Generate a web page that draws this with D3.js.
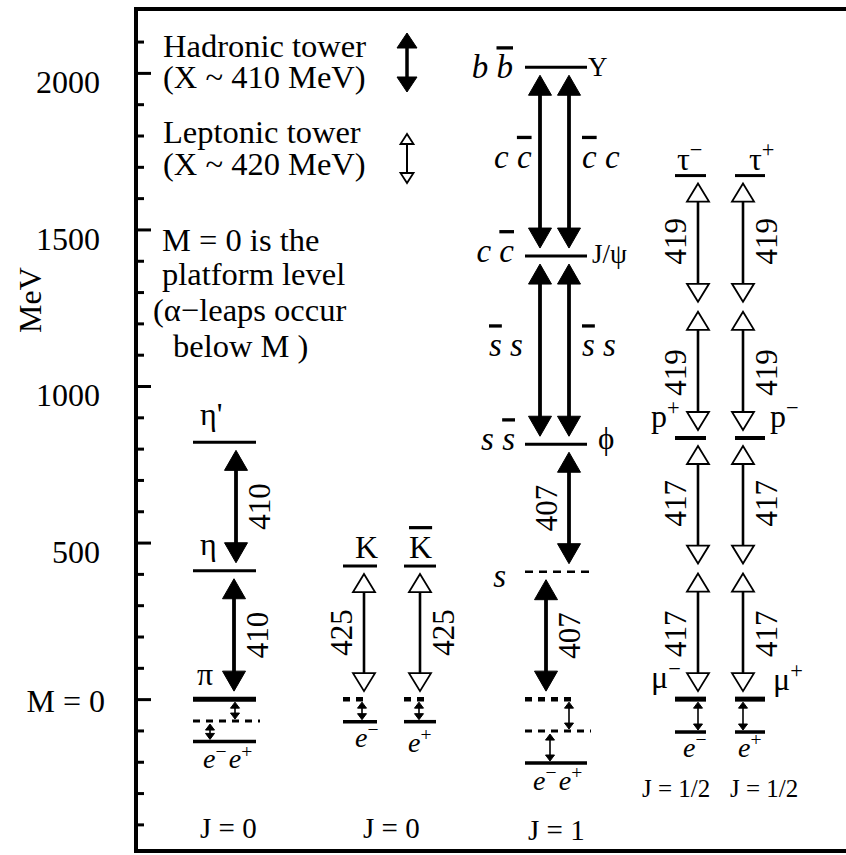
<!DOCTYPE html>
<html>
<head>
<meta charset="utf-8">
<script src="https://cdn.jsdelivr.net/npm/d3@7"></script>
</head>
<body style="margin:0;background:#fff">
<svg id="chart" width="846" height="855" font-family="Liberation Serif"></svg>
<script>
// ---- data: masses in MeV above the platform level M = 0 ----
const majorTicks = [0, 500, 1000, 1500, 2000];
const tickLabels = ["M = 0", "500", "1000", "1500", "2000"];
const minorTicks = [-400, -300, -200, -100, 100, 200, 300, 400, 600, 700, 800, 900,
                    1100, 1200, 1300, 1400, 1600, 1700, 1800, 1900, 2100];

const columns = ["J0", "K", "Kbar", "J1", "lepM", "lepP"];

// level lines per column
const levelCol  = ["J0", "J0", "J0", "J0", "J0",
                   "K", "K", "K", "Kbar", "Kbar", "Kbar",
                   "J1", "J1", "J1", "J1", "J1", "J1", "J1",
                   "lepM", "lepM", "lepM", "lepM", "lepP", "lepP", "lepP", "lepP"];
const levelMeV  = [820, 410, 0, -70, -135,
                   425, 0, -72, 425, 0, -72,
                   2018, 1415, 814, 407, 0, -102, -204,
                   1672, 834, 0, -105, 1672, 834, 0, -105];
const levelType = ["level", "level", "platform", "dashed", "ground",
                   "level", "platformDash", "ground", "level", "platformDash", "ground",
                   "level", "level", "level", "sDash", "platformDash", "dashed", "ground",
                   "level", "levelP", "platform", "ground", "level", "levelP", "platform", "ground"];

// hadronic (filled) towers
const hadLane  = ["J0a", "J0b", "J1a", "J1b", "J1a", "J1b", "J1b", "J1c"];
const hadCol   = ["J0", "J0", "J1", "J1", "J1", "J1", "J1", "J1"];
const hadFrom  = [410, 0, 1415, 1415, 814, 814, 407, 0];
const hadTo    = [820, 410, 2018, 2018, 1415, 1415, 814, 407];
const hadLabel = ["410", "410", "", "", "", "", "407", "407"];

// leptonic (open) towers
const lepLane  = ["K", "Kbar", "lepM", "lepM", "lepM", "lepM", "lepP", "lepP", "lepP", "lepP"];
const lepCol   = ["K", "Kbar", "lepM", "lepM", "lepM", "lepM", "lepP", "lepP", "lepP", "lepP"];
const lepFrom  = [0, 0, 0, 417, 834, 1253, 0, 417, 834, 1253];
const lepTo    = [425, 425, 417, 834, 1253, 1672, 417, 834, 1253, 1672];
const lepLabel = ["425", "425", "417", "417", "419", "419", "417", "417", "419", "419"];

// small leaps below the platform
const leapLane = ["J0s1", "J0s2", "Ks", "Kbars", "J1s1", "J1s2", "lepMs", "lepPs"];
const leapFrom = [-70, -135, -72, -72, -102, -204, -105, -105];
const leapTo   = [0, -70, 0, 0, 0, -102, 0, 0];

// particle names at the levels
const nameMeV  = [820, 410, 0, -135, 425, 425, -72, -72,
                  2018, 2018, 1415, 1415, 814, 814, 407, -204,
                  1672, 1672, 834, 834, 0, 0, -105, -105];
const nameText = ["η'", "η", "π", "e−e+", "K", "K̄", "e−", "e+",
                  "b b̄", "Y", "c c̄", "J/ψ", "s s̄", "ϕ", "s", "e−e+",
                  "τ−", "τ+", "p+", "p−", "μ−", "μ+", "e−", "e+"];

// quark content along the J = 1 tower
const pairMeV  = [1716, 1716, 1114, 1114];
const pairText = ["c c̄", "c̄ c", "s̄ s", "s̄ s"];

const spinText = ["J = 0", "J = 0", "J = 1", "J = 1/2", "J = 1/2"];

const legendText = ["Hadronic tower", "(X ~ 410 MeV)", "Leptonic tower", "(X ~ 420 MeV)",
                    "M = 0 is the", "platform level", "(α−leaps occur", "below M )"];

// ---- layout ----
const W = 846;
const FONT = "Liberation Serif, Times New Roman, Tinos, serif";
const svg = d3.select("#chart");
const y = d3.scaleLinear().domain([-485, 2204]).range([851, 9]);
const axisX = 136;

const colX0 = d3.scaleOrdinal().domain(columns).range([193, 343, 404, 525, 675, 735]);
const colX1 = d3.scaleOrdinal().domain(columns).range([256, 377, 436, 587, 706, 765]);
const laneX = d3.scaleOrdinal()
  .domain(["J0a", "J0b", "K", "Kbar", "J1a", "J1b", "J1c", "lepM", "lepP",
           "J0s1", "J0s2", "Ks", "Kbars", "J1s1", "J1s2", "lepMs", "lepPs"])
  .range([236, 234, 364, 420, 540, 569, 546, 698, 743,
          235, 210, 362, 419, 569, 550, 698, 743]);
const labelSide = {J0a: 1, J0b: 1, K: -1, Kbar: 1, J1b: -1, J1c: 1, lepM: -1, lepP: 1};

const levelStyle = {
  level:        {w: 3,   dash: null,  xpad: 0},
  levelP:       {w: 4,   dash: null,  xpad: 0},
  platform:     {w: 5,   dash: null,  xpad: 0},
  ground:       {w: 3.5, dash: null,  xpad: 0},
  dashed:       {w: 3,   dash: "7,6", xpad: 4},
  sDash:        {w: 2.5, dash: "8,6", xpad: 2},
  platformDash: {w: 4.5, dash: "7,6", xpad: -12}
};

// frame (right edge runs past the page)
svg.append("rect")
  .attr("x", axisX).attr("y", y(2204))
  .attr("width", W - axisX + 20).attr("height", y(-485) - y(2204))
  .attr("fill", "none").attr("stroke", "#000").attr("stroke-width", 4);

// axis with inward ticks
const gMinor = svg.append("g").attr("transform", `translate(${axisX},0)`)
  .call(d3.axisLeft(y).tickValues(minorTicks).tickSize(-8).tickFormat(""));
const gMajor = svg.append("g").attr("transform", `translate(${axisX},0)`)
  .call(d3.axisLeft(y).tickValues(majorTicks).tickSize(-15).tickPadding(36)
        .tickFormat((d, i) => tickLabels[i]));
[gMinor, gMajor].forEach(g => {
  g.attr("font-family", FONT).attr("font-size", 32);
  g.select(".domain").remove();
  g.selectAll(".tick line").attr("stroke", "#000").attr("stroke-width", 3);
});
gMajor.selectAll(".tick text")
  .attr("fill", "#000").attr("font-family", FONT).attr("font-size", 32)
  .attr("x", d => d === 0 ? -31 : -36)
  .attr("dy", d => d === 0 ? "0.38em" : "0.62em");

// vertical text: rotation on a wrapping group
function verticalText(sel, x, yc, str, size) {
  sel.append("g").attr("transform", `translate(${x},${yc}) rotate(-90)`)
    .attr("font-family", FONT)
    .append("text")
    .attr("text-anchor", "middle").attr("dominant-baseline", "central")
    .attr("font-family", FONT).style("font-family", FONT)
    .attr("font-size", size).text(str);
}
verticalText(svg, 30, 300, "MeV", 32);

// level lines
const levelData = levelMeV.map((m, i) => ({col: levelCol[i], mev: m, type: levelType[i]}));
svg.append("g").selectAll("line").data(levelData).join("line")
  .attr("x1", d => colX0(d.col))
  .attr("x2", d => colX1(d.col) + levelStyle[d.type].xpad)
  .attr("y1", d => y(d.mev)).attr("y2", d => y(d.mev))
  .attr("stroke", "#000")
  .attr("stroke-width", d => levelStyle[d.type].w)
  .attr("stroke-dasharray", d => levelStyle[d.type].dash);

// double-headed arrow between two pixel heights
function doubleArrow(g, x, yTop, yBot, o) {
  const hw = o.hw, hl = o.hl;
  g.append("line")
    .attr("x1", x).attr("x2", x)
    .attr("y1", yTop + hl - 1).attr("y2", yBot - hl + 1)
    .attr("stroke", "#000").attr("stroke-width", o.shaft);
  const heads = [
    [[x, yTop], [x - hw, yTop + hl], [x + hw, yTop + hl]],
    [[x, yBot], [x - hw, yBot - hl], [x + hw, yBot - hl]]
  ];
  heads.forEach(p => g.append("path")
    .attr("d", d3.line()(p) + "Z")
    .attr("fill", o.open ? "#fff" : "#000")
    .attr("stroke", "#000").attr("stroke-width", o.open ? 1.8 : 1));
}

function hasLevel(col, mev) {
  return levelData.some(l => l.col === col && l.mev === mev);
}
function tipPad(col, mev) { return hasLevel(col, mev) ? 8 : 5; }

const hadStyle = {hw: 11.5, hl: 20, shaft: 3.8, open: false};
const lepStyle = {hw: 11, hl: 18, shaft: 2.6, open: true};
const leapStyle = {hw: 4.5, hl: 6, shaft: 1.6, open: false};

const gArrows = svg.append("g").attr("font-family", FONT);
function drawTower(lanes, cols, from, to, labels, style) {
  lanes.forEach((lane, i) => {
    const x = laneX(lane);
    const yTop = y(to[i]) + tipPad(cols[i], to[i]);
    const yBot = y(from[i]) - tipPad(cols[i], from[i]);
    doubleArrow(gArrows, x, yTop, yBot, style);
    if (labels[i]) {
      verticalText(gArrows, x + 23 * labelSide[lane], (y(from[i]) + y(to[i])) / 2, labels[i], 31);
    }
  });
}
drawTower(hadLane, hadCol, hadFrom, hadTo, hadLabel, hadStyle);
drawTower(lepLane, lepCol, lepFrom, lepTo, lepLabel, lepStyle);

leapLane.forEach((lane, i) => {
  doubleArrow(gArrows, laneX(lane), y(leapTo[i]) + 3, y(leapFrom[i]) - 2, leapStyle);
});

// text with overlined letters (letter + U+0304) and raised +/− signs
function richText(sel, str, o) {
  const t = sel.append("text").attr("x", o.x).attr("y", o.y)
    .attr("font-family", FONT).attr("font-size", o.size)
    .attr("text-anchor", o.anchor || "start");
  if (o.italic) t.attr("font-style", "italic");
  const chars = Array.from(str);
  for (let i = 0; i < chars.length; i++) {
    const c = chars[i];
    if (c === "\u0304") continue;
    if (c === "+" || c === "−") {
      t.append("tspan").attr("dy", -o.size * 0.38).attr("font-size", o.size * 0.7)
        .attr("font-style", "normal").text(c);
      t.append("tspan").attr("dy", o.size * 0.38).text("\u200a");
    } else if (chars[i + 1] === "\u0304") {
      t.append("tspan").attr("text-decoration", "overline")
        .style("text-decoration", "overline").text(c);
    } else {
      t.append("tspan").text(c);
    }
  }
  return t;
}

// name placement relative to each level line
const nameLayout = [
  {x: 200, dy: -17, size: 32},                  // η'
  {x: 200, dy: -16, size: 32},                  // η
  {x: 197, dy: -14, size: 32},                  // π
  {x: 203, dy: 27, size: 28, italic: true},     // e−e+
  {x: 355, dy: -8, size: 32},                   // K
  {x: 409, dy: -8, size: 32},                   // K̄
  {x: 355, dy: 25, size: 28, italic: true},     // e−
  {x: 408, dy: 30, size: 28, italic: true},     // e+
  {x: 513, dy: 11, size: 33, italic: true, anchor: "end"}, // b b̄
  {x: 588, dy: 9, size: 27},                    // Y
  {x: 514, dy: 6, size: 33, italic: true, anchor: "end"},  // c c̄
  {x: 592, dy: 7, size: 27},                    // J/ψ
  {x: 515, dy: 6, size: 33, italic: true, anchor: "end"},  // s s̄
  {x: 598, dy: 5, size: 31},                    // ϕ
  {x: 506, dy: 15, size: 33, italic: true, anchor: "end"}, // s
  {x: 533, dy: 27, size: 28, italic: true},     // e−e+
  {x: 677, dy: -6, size: 32},                   // τ−
  {x: 749, dy: -6, size: 32},                   // τ+
  {x: 651, dy: -11, size: 32},                  // p+
  {x: 770, dy: -11, size: 32},                  // p−
  {x: 651, dy: -11, size: 32},                  // μ−
  {x: 773, dy: -9, size: 32},                   // μ+
  {x: 683, dy: 25, size: 28, italic: true},     // e−
  {x: 738, dy: 25, size: 28, italic: true}      // e+
];
const gNames = svg.append("g").attr("font-family", FONT);
nameText.forEach((s, i) => {
  const L = nameLayout[i];
  richText(gNames, s, {x: L.x, y: y(nameMeV[i]) + L.dy, size: L.size,
    italic: L.italic, anchor: L.anchor});
});

// quark content beside the J = 1 pair of arrows
const pairX = [494, 582, 489, 582];
pairText.forEach((s, i) => {
  richText(gNames, s, {x: pairX[i], y: y(pairMeV[i]) + 6, size: 33, italic: true});
});

// spin labels
const spinX = [200, 363, 528, 642, 730];
const spinY = [838, 838, 840, 797, 797];
const spinSize = [29, 29, 29, 25, 25];
spinText.forEach((s, i) => {
  svg.append("text").attr("x", spinX[i]).attr("y", spinY[i])
    .attr("font-family", FONT).attr("font-size", spinSize[i]).text(s);
});

// legend and note
const legendX = [163, 163, 163, 163, 162, 162, 153, 173];
const legendY = [57, 88, 143, 175, 251, 285, 321, 357];
legendText.forEach((s, i) => svg.append("text")
  .attr("x", legendX[i]).attr("y", legendY[i])
  .attr("font-family", FONT).attr("font-size", 32.5).text(s));
doubleArrow(svg, 407, 33, 92, {hw: 10, hl: 15, shaft: 3.5, open: false});
doubleArrow(svg, 407, 134, 183, {hw: 6.5, hl: 10, shaft: 2, open: true});
</script>
</body>
</html>
